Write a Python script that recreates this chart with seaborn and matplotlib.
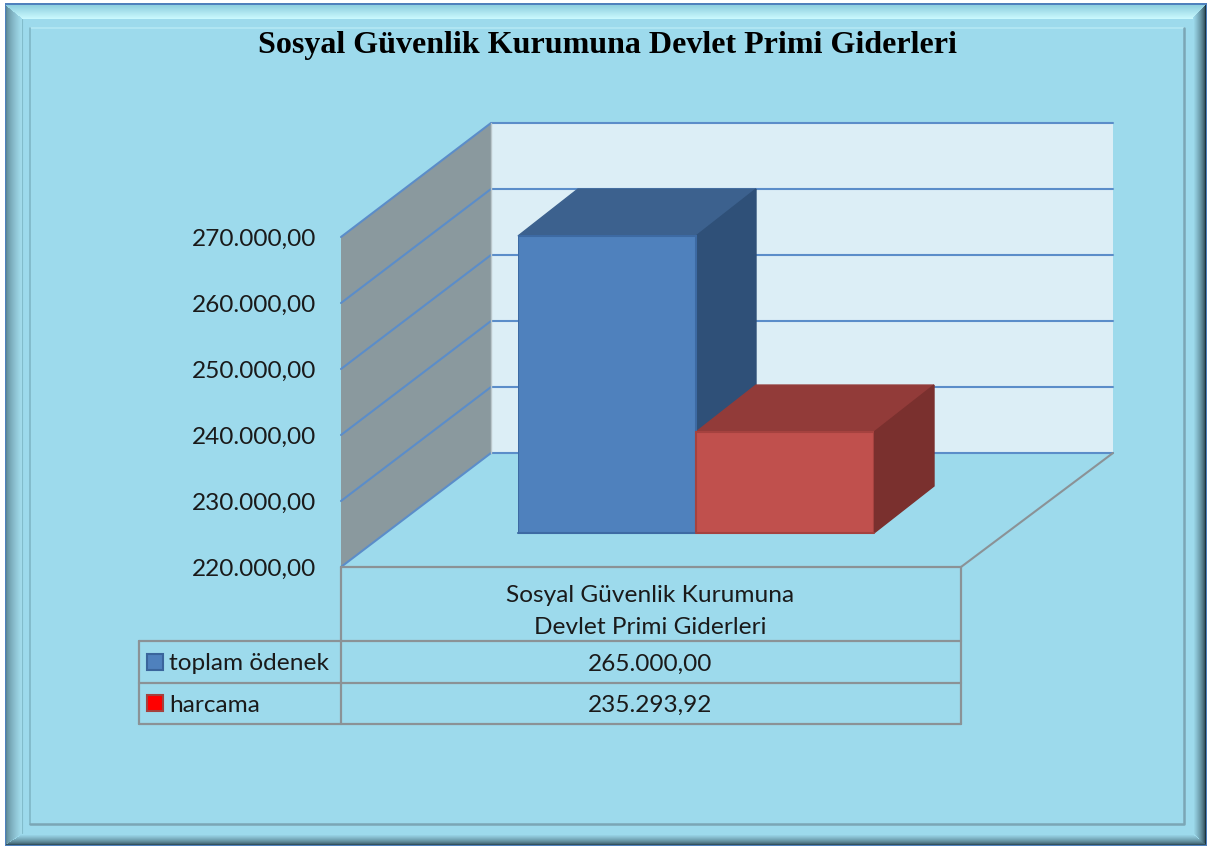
import numpy as np
from matplotlib import pyplot as plt
from matplotlib.colors import to_rgb
import seaborn as sns

title = 'Sosyal Güvenlik Kurumuna Devlet Primi Giderleri'
series_names = ['toplam ödenek', 'harcama']
series_values = [265000.00, 235293.92]
category_lines = ['Sosyal Güvenlik Kurumuna', 'Devlet Primi Giderleri']
y_ticks = [220000, 230000, 240000, 250000, 260000, 270000]

BG = '#9ddaec'
FRONT = ['#4f81bd', '#c0504d']
TOP = ['#3c618e', '#923b39']
SIDE = ['#2f5078', '#7a302e']
EDGE = ['#3d6aa3', '#a5423f']
SWATCH = ['#4f81bd', '#ff0000']
SWATCH_EDGE = ['#3a659c', '#a5403d']
GRID = '#5b8dc9'
TABLE = '#8b9296'
TXT = 17.6
W, H = 1209, 847


def money(v):
    # turkish number format
    return f'{v:,.2f}'.replace(',', 'X').replace('.', ',').replace('X', '.')


def mix(c1, c2, t):
    return np.array(to_rgb(c1)) * (1 - t) + np.array(to_rgb(c2)) * t


sns.set_theme(style='white')
plt.rcParams['font.family'] = ['Lato', 'DejaVu Sans']

fig = plt.figure(figsize=(W / 100, H / 100), dpi=100, facecolor='white')

##### background in pixel coordinates #####
bg = fig.add_axes([0, 0, 1, 1], zorder=0)
bg.set_xlim(0, W)
bg.set_ylim(H, 0)
bg.axis('off')

bg.fill([5, 1207, 1207, 5], [3, 3, 846, 846], color='#4f81bd', lw=0)
bg.fill([6, 1206, 1206, 6], [5, 5, 845, 845], color=BG, lw=0)

# bevel of the frame, one strip per pixel
for i in range(16):
    t = i / 15
    x0, x1 = 6 + i, 7 + i
    y0, y1 = 5 + i * 13 / 15, 845 - i * 11 / 15
    bg.fill([x0, x1, x1, x0], [y0, y0 + 1, y1 - 1, y1], color=mix('#5c8796', '#a3dded', t ** 0.7), lw=0)
for i in range(14):
    t = i / 13
    y0, y1 = 5 + i, 6 + i
    x0, x1 = 6 + i * 16 / 13, 1206 - i * 13 / 13
    bg.fill([x0, x1, x1, x0], [y0, y0, y1, y1], color=mix('#8fd0e0', '#c9f8fd', t), lw=0)
for i in range(13):
    t = i / 12
    x0, x1 = 1206 - i, 1205 - i
    y0, y1 = 5 + i, 845 - i
    bg.fill([x0, x1, x1, x0], [y0, y0, y1, y1], color=mix('#1c3540', '#9ddaec', t ** 0.6), lw=0)
for i in range(11):
    t = i / 10
    y0, y1 = 845 - i, 844 - i
    x0, x1 = 6 + i * 16 / 10, 1206 - i * 13 / 10
    bg.fill([x0, x1, x1, x0], [y0, y0, y1, y1], color=mix('#33525f', '#9ddaec', t ** 0.7), lw=0)

# inner lines of the frame
bg.plot([21.5, 21.5], [19, 833], color='#82bccb', lw=0.8)
bg.plot([30, 1184], [28, 28], color='#b5e8f4', lw=1.2)
bg.plot([30, 30], [824, 28], color='#7fb6c6', lw=1.2)
bg.plot([30, 1184, 1184], [824, 824, 28], color='#7ba6b5', lw=1.8)

bg.text(608, 45, title, ha='center', va='center', fontsize=23, fontweight='bold',
        family='Liberation Serif', color='black')

##### walls and floor #####
scale = 330 / (y_ticks[-1] - y_ticks[0])
back_x0, back_x1, front_x0, front_x1 = 491, 1113, 341, 961
back_y0, front_y0 = 453, 567
back_y = [back_y0 - (v - y_ticks[0]) * scale for v in y_ticks]
depth = front_y0 - back_y0

bg.fill([back_x0, back_x1, back_x1, back_x0], [back_y[-1], back_y[-1], back_y0, back_y0], color='#dceef6', lw=0)
bg.fill([front_x0, back_x0, back_x0, front_x0], [back_y[-1] + depth, back_y[-1], back_y0, front_y0],
        color='#8a999e', lw=0)
for y in back_y:
    bg.plot([front_x0, back_x0, back_x1], [y + depth, y, y], color=GRID, lw=1.5)
bg.plot([back_x0, back_x0], [back_y[-1], back_y0], color='#b9c6cb', lw=1)
bg.plot([front_x1, back_x1], [front_y0, back_y0], color=TABLE, lw=1.5)

for v, y in zip(y_ticks, back_y):
    bg.text(316, y + depth + 2, money(v), ha='right', va='center', fontsize=TXT, color='#1a1a1a')

##### data table #####
row_y = [641, 683, 724]
table_x0 = 139
bg.plot([front_x0, front_x1], [front_y0, front_y0], color=TABLE, lw=1.6)
for y in row_y:
    bg.plot([table_x0, front_x1], [y, y], color=TABLE, lw=1.6)
bg.plot([table_x0, table_x0], [row_y[0], row_y[-1]], color=TABLE, lw=1.6)
bg.plot([front_x0, front_x0], [front_y0, row_y[-1]], color=TABLE, lw=1.6)
bg.plot([front_x1, front_x1], [front_y0, row_y[-1]], color=TABLE, lw=1.6)

bg.text(650, 595, category_lines[0], ha='center', va='center', fontsize=TXT, color='#1a1a1a')
bg.text(650, 627, category_lines[1], ha='center', va='center', fontsize=TXT, color='#1a1a1a')
for i, (name, val) in enumerate(zip(series_names, series_values)):
    yc = (row_y[i] + row_y[i + 1]) / 2
    bg.fill([147, 163, 163, 147], [yc - 8, yc - 8, yc + 8, yc + 8], facecolor=SWATCH[i],
            edgecolor=SWATCH_EDGE[i], lw=1.5)
    bg.text(169, yc + 2, name, ha='left', va='center', fontsize=TXT, color='#1a1a1a')
    bg.text(650, yc + 2, money(val), ha='center', va='center', fontsize=TXT, color='#1a1a1a')

##### bars #####
bar_left, bar_right, bar_base = 518, 874, 533
ax = fig.add_axes([bar_left / W, 1 - bar_base / H, (bar_right - bar_left) / W, 330 / H], zorder=1)
ax.patch.set_alpha(0)
sns.barplot(x=series_names, y=series_values, hue=series_names, palette=FRONT, width=1,
            legend=False, ax=ax, saturation=1, linewidth=1.5, zorder=3)
ax.set_xlim(-0.5, 1.5)
ax.set_ylim(y_ticks[0], y_ticks[-1])
ax.axis('off')
for bar, col in zip(ax.patches, EDGE):
    bar.set_edgecolor(col)

# depth of the bars
dx = 60 / ((bar_right - bar_left) / 2)
dy = 47 / scale
for i, val in enumerate(series_values):
    x0, x1 = i - 0.5, i + 0.5
    base = y_ticks[0]
    ax.fill([x0, x0 + dx, x1 + dx, x1], [val, val + dy, val + dy, val], facecolor=TOP[i],
            edgecolor=TOP[i], lw=1, clip_on=False, zorder=1 + i)
    ax.fill([x1, x1 + dx, x1 + dx, x1], [base, base + dy, val + dy, val], facecolor=SIDE[i],
            edgecolor=SIDE[i], lw=1, clip_on=False, zorder=1 + i)
    ax.plot([x0, x1], [base, base], color=EDGE[i], lw=1.5, clip_on=False, zorder=4)

plt.savefig('out.png', dpi=100)
